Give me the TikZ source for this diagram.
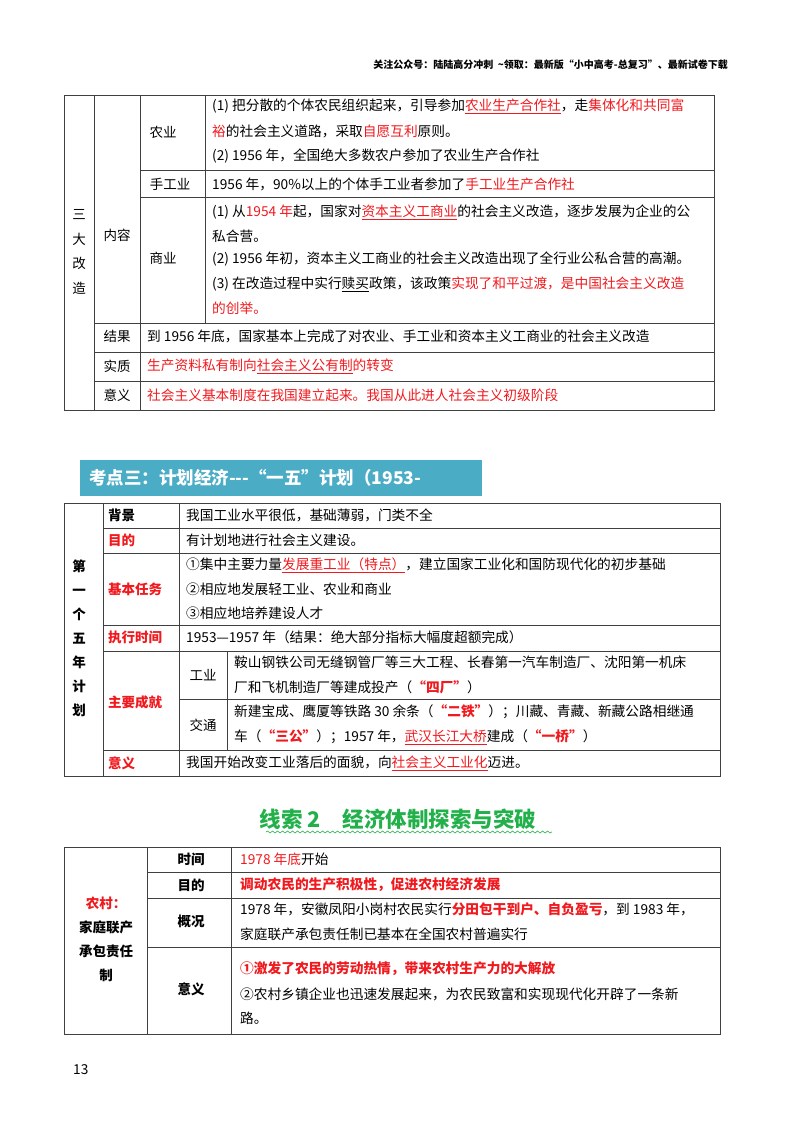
\documentclass[tikz,border=0pt]{standalone}
\usepackage{fontspec}
\setmainfont{Noto Sans CJK SC}
\usetikzlibrary{decorations.pathmorphing}
\definecolor{rd}{HTML}{F0191E}
\definecolor{bnr}{HTML}{4BACC6}
\definecolor{grn}{HTML}{22B04A}
\newcommand{\rd}[1]{\textcolor{rd}{#1}}
\newcommand{\rdu}[1]{\textcolor{rd}{\underline{#1}}}
\newcommand{\rdb}[1]{\textcolor{rd}{\bfseries #1}}
\begin{document}
\begin{tikzpicture}[x=1pt,y=-1pt,
  t/.style={anchor=west,inner sep=0pt,font=\fontsize{13.7}{15}\selectfont},
  lb/.style={anchor=center,inner sep=0pt,font=\fontsize{13.5}{15}\selectfont},
  vt/.style={anchor=center,inner sep=0pt,align=center,font=\fontsize{13.5}{24.5}\selectfont},
  gl/.style={line width=0.9pt,draw=black!75}]
\useasboundingbox (0,0) rectangle (800,1132);
% header
\node[anchor=east,inner sep=0pt,font=\fontsize{10}{12}\selectfont\bfseries] (hdr) at (728,65) {关注公众号：陆陆高分冲刺\ \ \textasciitilde 领取：最新版“小中高考-总复习”、最新试卷下载};
% ---------- table 1
\draw[gl] (64,95) rectangle (714,410);
\draw[gl] (94,95) -- (94,410) (140,95) -- (140,410) (205,95) -- (205,323);
\draw[gl] (140,170) -- (714,170) (140,197) -- (714,197) (94,323) -- (714,323) (94,352) -- (714,352) (94,381) -- (714,381);
\node[vt] (sd) at (79,252) {三\\大\\改\\造};
\node[lb] (nr) at (117,235) {内容};
\node[lb] (ny) at (163,132) {农业};
\node[lb] (sgy) at (170,184) {手工业};
\node[lb] (sy) at (163,258) {商业};
\node[t] (a1) at (212,106) {(1) 把分散的个体农民组织起来，引导参加\rdu{农业生产合作社}，走\rd{集体化和共同富}};
\node[t] (a2) at (212,131) {\rd{裕}的社会主义道路，采取\rd{自愿互利}原则。};
\node[t] (a3) at (212,156) {(2) 1956 年，全国绝大多数农户参加了农业生产合作社};
\node[t] (b1) at (212,184) {1956 年，90\%以上的个体手工业者参加了\rd{手工业生产合作社}};
\node[t] (c1) at (212,212) {(1) 从\rd{1954 年}起，国家对\rdu{资本主义工商业}的社会主义改造，逐步发展为企业的公};
\node[t] (c2) at (212,236) {私合营。};
\node[t] (c3) at (212,259) {(2) 1956 年初，资本主义工商业的社会主义改造出现了全行业公私合营的高潮。};
\node[t] (c4) at (212,284) {(3) 在改造过程中实行\underline{赎买}政策，该政策\rd{实现了和平过渡，是中国社会主义改造}};
\node[t] (c5) at (212,308) {\rd{的创举。}};
\node[lb] (jg) at (117,336) {结果};
\node[t] (d1) at (147,336) {到 1956 年底，国家基本上完成了对农业、手工业和资本主义工商业的社会主义改造};
\node[lb] (sz) at (117,366) {实质};
\node[t] (e1) at (147,366) {\rd{生产资料私有制向\underline{社会主义公有制}的转变}};
\node[lb] (yy) at (117,395) {意义};
\node[t] (f1) at (147,395) {\rd{社会主义基本制度在我国建立起来。我国从此进人社会主义初级阶段}};
% ---------- banner
\node[fill=bnr,minimum width=402pt,minimum height=36pt,inner sep=0pt] (bn) at (281,478) {};
\node[anchor=west,text=white,inner sep=0pt,font=\fontsize{17.5}{19}\selectfont\bfseries] (bt) at (89,478) {考点三：计划经济-{}-{}-“一五”计划（1953-};
% ---------- table 2
\draw[gl] (64,503) rectangle (720,776);
\draw[gl] (103,503) -- (103,776) (179,503) -- (179,776) (227,651) -- (227,750);
\draw[gl] (103,528) -- (720,528) (103,553) -- (720,553) (103,625) -- (720,625) (103,651) -- (720,651) (179,699) -- (720,699) (103,750) -- (720,750);
\node[vt,font=\fontsize{13.5}{24}\selectfont\bfseries] (dy) at (79,638) {第\\一\\个\\五\\年\\计\\划};
\node[t,font=\fontsize{13.5}{15}\selectfont\bfseries] (bj) at (108,515) {背景};
\node[t,font=\fontsize{13.5}{15}\selectfont\bfseries,text=rd] (md) at (108,540) {目的};
\node[t,font=\fontsize{13.5}{15}\selectfont\bfseries,text=rd] (jb) at (108,589) {基本任务};
\node[t,font=\fontsize{13.5}{15}\selectfont\bfseries,text=rd] (zx) at (108,637) {执行时间};
\node[t,font=\fontsize{13.5}{15}\selectfont\bfseries,text=rd] (zy) at (108,702) {主要成就};
\node[t,font=\fontsize{13.5}{15}\selectfont\bfseries,text=rd] (yy2) at (108,763) {意义};
\node[lb] (gy) at (203,675) {工业};
\node[lb] (jt) at (203,725) {交通};
\node[t] (g1) at (186,515) {我国工业水平很低，基础薄弱，门类不全};
\node[t] (g2) at (186,540) {有计划地进行社会主义建设。};
\node[t] (g3) at (186,565) {①集中主要力量\rdu{发展重工业（特点）}，建立国家工业化和国防现代化的初步基础};
\node[t] (g4) at (186,589) {②相应地发展轻工业、农业和商业};
\node[t] (g5) at (186,613) {③相应地培养建设人才};
\node[t] (g6) at (186,637) {1953—1957 年（结果：绝大部分指标大幅度超额完成）};
\node[t] (g7) at (234,662) {鞍山钢铁公司无缝钢管厂等三大工程、长春第一汽车制造厂、沈阳第一机床};
\node[t] (g8) at (234,687) {厂和飞机制造厂等建成投产（\rdb{“四厂”}）};
\node[t] (g9) at (234,712) {新建宝成、鹰厦等铁路 30 余条（\rdb{“二铁”}）；川藏、青藏、新藏公路相继通};
\node[t] (g10) at (234,737) {车（\rdb{“三公”}）；1957 年，\rdu{武汉长江大桥}建成（\rdb{“一桥”}）};
\node[t] (g11) at (186,763) {我国开始改变工业落后的面貌，向\rdu{社会主义工业化}迈进。};
% ---------- title 2
\node[inner sep=0pt,text=grn,font=\fontsize{21.5}{23}\selectfont\bfseries] (tt) at (398,819) {线索 2\quad 经济体制探索与突破};
\coordinate (w1) at (266,832); \coordinate (w2) at (552,832);
\draw[grn,line width=0.6pt,decorate,decoration={snake,amplitude=1pt,segment length=5pt}] (w1) -- (w2);
% ---------- table 3
\draw[gl] (64,847) rectangle (720,1034);
\draw[gl] (147,847) -- (147,1034) (231,847) -- (231,1034);
\draw[gl] (147,872) -- (720,872) (147,898) -- (720,898) (147,947) -- (720,947);
\node[vt,font=\fontsize{13.5}{24}\selectfont\bfseries] (nc) at (106,939) {\textcolor{rd}{农村：}\\家庭联产\\承包责任\\制};
\node[lb,font=\fontsize{13.5}{15}\selectfont\bfseries] (sj) at (191,859) {时间};
\node[lb,font=\fontsize{13.5}{15}\selectfont\bfseries] (md3) at (191,885) {目的};
\node[lb,font=\fontsize{13.5}{15}\selectfont\bfseries] (gk) at (191,921) {概况};
\node[lb,font=\fontsize{13.5}{15}\selectfont\bfseries] (yy3) at (191,989) {意义};
\node[t] (h1) at (240,859) {\rd{1978 年底}开始};
\node[t] (h2) at (240,885) {\rdb{调动农民的生产积极性，促进农村经济发展}};
\node[t] (h3) at (240,909) {1978 年，安徽凤阳小岗村农民实行\rdb{分田包干到户、自负盈亏}，到 1983 年，};
\node[t] (h4) at (240,934) {家庭联产承包责任制已基本在全国农村普遍实行};
\node[t] (h5) at (240,969) {\rdb{①激发了农民的劳动热情，带来农村生产力的大解放}};
\node[t] (h6) at (240,994) {②农村乡镇企业也迅速发展起来，为农民致富和实现现代化开辟了一条新};
\node[t] (h7) at (240,1018) {路。};
\node[t] (pg) at (73,1070) {13};
\end{tikzpicture}
\end{document}
